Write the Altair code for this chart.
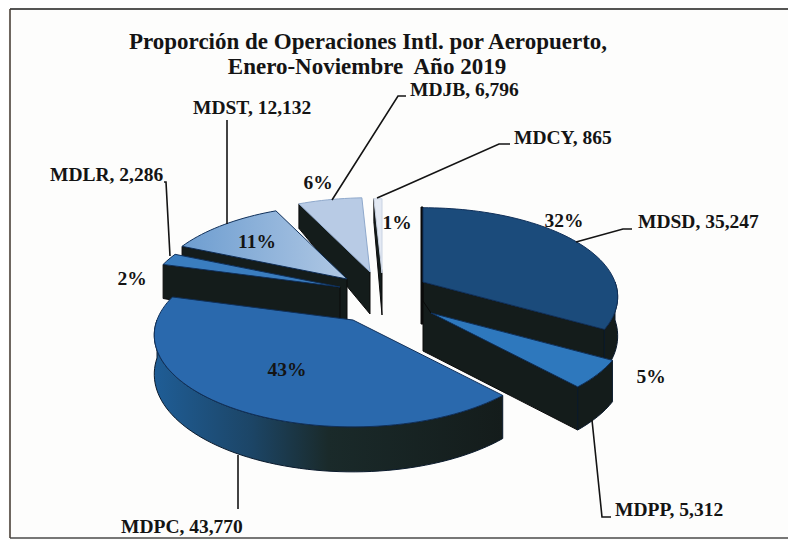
import math
import altair as alt
import pandas as pd

# ---- values
airports = ["MDSD", "MDPP", "MDPC", "MDLR", "MDST", "MDJB", "MDCY"]
operations = [35247, 5312, 43770, 2286, 12132, 6796, 865]
percent_labels = ["32%", "5%", "43%", "2%", "11%", "6%", "1%"]
title_lines = ["Proporción de Operaciones Intl. por Aeropuerto,", "Enero-Noviembre\u00a0 Año 2019"]

# ---- styling / layout of the exploded perspective pie
apex_x = [423, 431, 353, 340, 347, 370, 382]
apex_y = [282, 313, 320, 287, 279, 272, 273]
radii = [192, 192, 196, 192, 192, 192, 192]
top_colors = ["#1b4b7b", "#2e78bd", "#2a69ad", "#3a7dbf", None, "#b8cbe5", "#e3e9f3"]
draw_order = ["MDCY", "MDJB", "MDST", "MDLR", "MDSD", "MDPP", "MDPC"]
TILT, PERSP = 0.466, 0.17
FONT = "Liberation Serif"
INK = "#141414"
SIDE = "#141c1b"

label_x = [638, 615, 121, 50, 193, 410, 514]
label_y = [222, 510, 527, 175, 108, 90, 138]
pct_x = [564, 651, 287, 132, 257, 318, 397]
pct_y = [221, 377, 370, 279, 242, 183, 223]
leaders = {
    "MDSD": ([576, 623, 632], [242, 229, 229]),
    "MDPP": ([592, 602, 611], [420, 517, 517]),
    "MDPC": ([238, 238], [455, 509]),
    "MDLR": ([164, 166, 170], [182, 182, 256]),
    "MDST": ([227, 227], [120, 224]),
    "MDJB": ([332, 398, 406], [200, 96, 96]),
    "MDCY": ([377, 400, 499, 510], [198, 188, 144, 144]),
}

x_scale = alt.Scale(domain=[8, 788], range=[0, 780], nice=False, zero=False)
y_scale = alt.Scale(domain=[540, 8], range=[532, 0], nice=False, zero=False)
X = alt.X("x:Q", scale=x_scale, axis=None)
Y = alt.Y("y:Q", scale=y_scale, axis=None)


def rim(theta, ax, ay, r):
    t = math.radians(theta)
    s = 1 - PERSP * math.cos(t)
    return ax + r * math.sin(t) * s, ay - r * TILT * math.cos(t) * s


def depth(theta):
    c = math.cos(math.radians(theta))
    return 38 - 15 * c if c > 0 else 38 - 7 * c


def polygon(points, **mark):
    df = pd.DataFrame(points, columns=["x", "y"]).assign(i=lambda d: range(len(d)))
    return alt.Chart(df).mark_line(filled=True, interpolate="linear-closed", **mark).encode(
        x=X, y=Y, order=alt.Order("i:Q")
    )


def arc(a, b):
    n = max(2, int(abs(b - a) / 2) + 1)
    return [a + (b - a) * j / (n - 1) for j in range(n)]


total = sum(operations)
starts, acc = {}, 0.0
for name, v in zip(airports, operations):
    starts[name] = (acc / total * 360, (acc + v) / total * 360)
    acc += v

wall_gradient = alt.Gradient(
    gradient="linear", x1=0, x2=1, y1=0, y2=0,
    stops=[
        alt.GradientStop(offset=0, color="#1f5d96"),
        alt.GradientStop(offset=0.28, color="#1c4566"),
        alt.GradientStop(offset=0.5, color="#1a2a2a"),
        alt.GradientStop(offset=1, color=SIDE),
    ],
)
mdst_gradient = alt.Gradient(
    gradient="linear", x1=0, x2=1, y1=0, y2=0,
    stops=[
        alt.GradientStop(offset=0, color="#6d9dd0"),
        alt.GradientStop(offset=1, color="#b0c8e4"),
    ],
)

layers = []
for name in draw_order:
    k = airports.index(name)
    a, b = starts[name]
    ax, ay, r = apex_x[k], apex_y[k], radii[k]
    # visible radial side
    face = b if b < 180 else (a if a > 180 else None)
    if face is not None:
        rx, ry = rim(face, ax, ay, r)
        pts = [(ax, ay), (rx, ry), (rx, ry + depth(face)), (ax, ay + 42)]
        if name == "MDPP":
            pts += [(ax - 8, ay + 38), (ax - 8, ay - 12)]
        layers.append(polygon(pts, fill=SIDE, stroke="#0a0a0a", strokeWidth=1))
    if name == "MDSD":
        layers.append(polygon([(ax - 2, ay - 75), (ax, ay - 75), (ax, ay + 42), (ax - 2, ay + 42)],
                              fill="#0a0a0a", stroke="#0a0a0a", strokeWidth=1))
    # visible outer wall
    lo, hi = max(a, 90), min(b, 270)
    if lo < hi:
        ang = arc(lo, hi)
        upper = [rim(t, ax, ay, r) for t in ang]
        lower = [(rim(t, ax, ay, r)[0], rim(t, ax, ay, r)[1] + depth(t)) for t in reversed(ang)]
        fill = wall_gradient if name == "MDPC" else SIDE
        layers.append(polygon(upper + lower, fill=fill, stroke="#0a1a2c", strokeWidth=1))
    # top face
    ang = arc(a, b)
    fill = top_colors[k] if top_colors[k] else mdst_gradient
    stroke = "#c9d3e2" if name == "MDCY" else ("#8fa9cc" if name == "MDJB" else "#10305a")
    layers.append(polygon([(ax, ay)] + [rim(t, ax, ay, r) for t in ang],
                          fill=fill, stroke=stroke, strokeWidth=1))

# leader lines
for name, (lx, ly) in leaders.items():
    df = pd.DataFrame({"x": lx, "y": ly, "i": range(len(lx))})
    layers.append(alt.Chart(df).mark_line(color=INK, strokeWidth=1.6).encode(
        x=X, y=Y, order=alt.Order("i:Q")))

# frame
frame_h = pd.DataFrame({"x": [10, 788], "y": [9, 9], "i": [0, 1]})
frame_b = pd.DataFrame({"x": [10, 788], "y": [538, 538], "i": [0, 1]})
frame_v = pd.DataFrame({"x": [10, 10], "y": [9, 538], "i": [0, 1]})
for df, c in ((frame_h, "#1c1c1c"), (frame_b, "#4a4a4a"), (frame_v, "#4a4038")):
    layers.append(alt.Chart(df).mark_line(color=c, strokeWidth=1.6).encode(
        x=X, y=Y, order=alt.Order("i:Q")))

# airport labels
labels = pd.DataFrame({
    "x": label_x, "y": label_y,
    "t": [f"{n}, {v:,}" for n, v in zip(airports, operations)],
})
layers.append(alt.Chart(labels).mark_text(
    align="left", baseline="middle", font=FONT, fontSize=19.5, fontWeight="bold", color=INK
).encode(x=X, y=Y, text="t:N"))

# percent labels
pcts = pd.DataFrame({"x": pct_x, "y": pct_y, "t": percent_labels})
layers.append(alt.Chart(pcts).mark_text(
    align="center", baseline="middle", font=FONT, fontSize=19.5, fontWeight="bold", color=INK
).encode(x=X, y=Y, text="t:N"))

# title
titles = pd.DataFrame({"x": [368, 367], "y": [42, 67], "t": title_lines})
layers.append(alt.Chart(titles).mark_text(
    align="center", baseline="middle", font=FONT, fontSize=23, fontWeight="bold", color=INK
).encode(x=X, y=Y, text="t:N"))

chart = alt.layer(*layers).properties(
    width=780, height=532, padding=0, background="#fdfdfc",
    autosize=alt.AutoSizeParams(type="none"),
).configure_view(stroke=None)

chart.save("out.html", embed_options={"renderer": "svg", "actions": False})
